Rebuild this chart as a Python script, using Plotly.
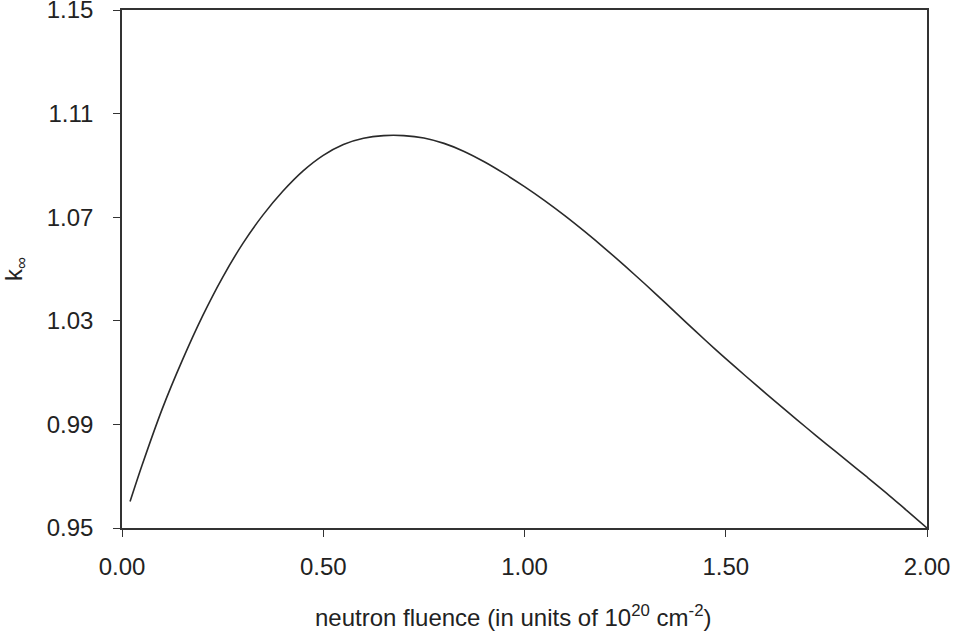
import plotly.graph_objects as go

fluence = [0.02, 0.05, 0.10, 0.15, 0.20, 0.25, 0.30, 0.35, 0.40, 0.45, 0.50, 0.55, 0.60, 0.65, 0.70,
           0.75, 0.80, 0.85, 0.90, 0.95, 1.00, 1.05, 1.10, 1.15, 1.20, 1.25, 1.30, 1.35, 1.40, 1.45,
           1.50, 1.55, 1.60, 1.65, 1.70, 1.75, 1.80, 1.85, 1.90, 1.95, 2.00]
k_inf = [0.9602, 0.9743, 0.9960, 1.0148, 1.0318, 1.0468, 1.0598, 1.0708, 1.0801, 1.0879, 1.0939,
         1.0981, 1.1005, 1.1015, 1.1015, 1.1006, 1.0985, 1.0954, 1.0914, 1.0868, 1.0818, 1.0764,
         1.0706, 1.0644, 1.0579, 1.0511, 1.0441, 1.0369, 1.0296, 1.0224, 1.0154, 1.0086, 1.0019,
         0.9953, 0.9888, 0.9824, 0.9761, 0.9698, 0.9634, 0.9567, 0.9500]

x_ticks = [0.0, 0.5, 1.0, 1.5, 2.0]
y_ticks = [0.95, 0.99, 1.03, 1.07, 1.11, 1.15]

font_family = "Liberation Sans, Arial, sans-serif"
ink = "#222222"

fig = go.Figure()
fig.add_trace(go.Scatter(
    x=fluence, y=k_inf, mode="lines",
    line=dict(color="#2a2a2a", width=1.6, shape="spline", smoothing=0.8),
    showlegend=False, hoverinfo="skip",
))

axis_common = dict(
    showline=True, linecolor="#333333", linewidth=1.5, mirror=True,
    ticks="outside", ticklen=7, tickwidth=1.2, tickcolor="#333333",
    showgrid=False, zeroline=False, automargin=False,
    ticklabeloverflow="allow",
    tickfont=dict(family=font_family, size=24, color=ink),
)

fig.update_layout(
    width=957, height=635,
    margin=dict(l=122, r=30, t=10, b=107),
    paper_bgcolor="white", plot_bgcolor="white",
    font=dict(family=font_family, size=24, color=ink),
    xaxis=dict(range=[0, 2.0], tickvals=x_ticks, tickformat=".2f", ticklabelstandoff=9,
               **axis_common),
    yaxis=dict(range=[0.95, 1.15], tickvals=y_ticks, tickformat=".2f", ticklabelstandoff=15,
               title=dict(text="k<sub>∞</sub>",
                          font=dict(family=font_family, size=24, color=ink), standoff=18),
               **axis_common),
    annotations=[dict(
        text="neutron fluence (in units of 10<sup>20</sup> cm<sup>-2</sup>)",
        xref="paper", yref="paper", x=0.5, y=0, xanchor="center", yanchor="middle",
        xshift=-12, yshift=-88, showarrow=False,
        font=dict(family=font_family, size=24, color=ink),
    )],
)

fig.write_html("out.html", config={"displayModeBar": False},
               post_script="document.body.style.margin='0';")
